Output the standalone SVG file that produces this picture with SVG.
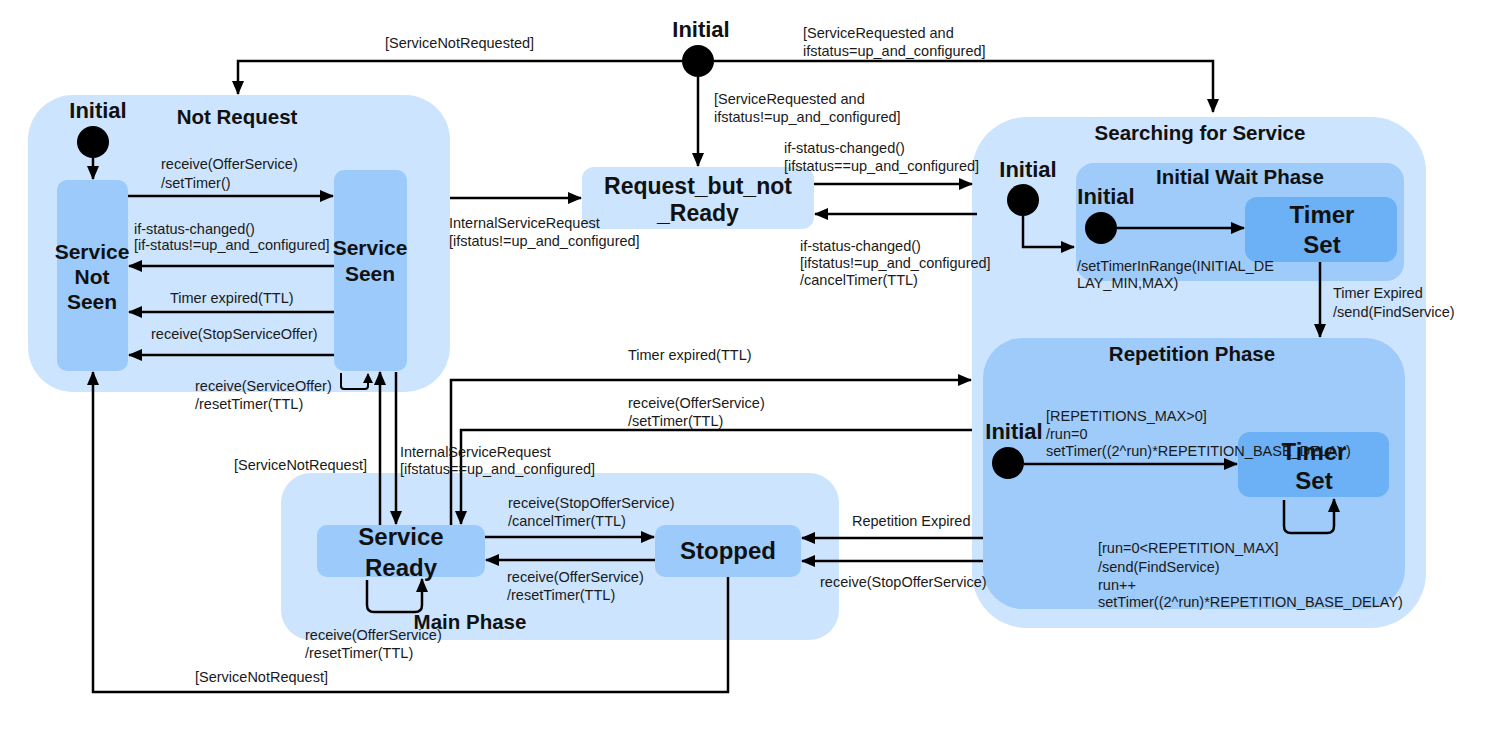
<svg xmlns="http://www.w3.org/2000/svg" width="1488" height="732" viewBox="0 0 1488 732">
<style>
.c{fill:#cce4fd}
.p{fill:#9ecbf9}
.n{fill:#9ccbfb}
.t{fill:#6cb0f5}
.ln{fill:none;stroke:#000;stroke-width:2.5}
.thin{fill:none;stroke:#000;stroke-width:2}
text{font-family:"Liberation Sans",Arial,sans-serif}
.lb{font-size:14.5px;fill:#1a1a1a}
.h{font-size:20.5px;font-weight:bold;text-anchor:middle;fill:#111}
.ini{font-size:22px;font-weight:bold;text-anchor:middle;fill:#111}
.n1{font-size:21px;font-weight:bold;text-anchor:middle;fill:#111}
.n2{font-size:24px;font-weight:bold;text-anchor:middle;fill:#111}
</style>
<defs>
<marker id="ah" viewBox="0 0 14 12" refX="13" refY="6" markerWidth="14" markerHeight="12" markerUnits="userSpaceOnUse" orient="auto"><path d="M0,0 L14,6 L0,12 z" fill="#000"/></marker>
<marker id="as" viewBox="0 0 10 10" refX="9" refY="5" markerWidth="10" markerHeight="10" markerUnits="userSpaceOnUse" orient="auto"><path d="M0,0 L10,5 L0,10 z" fill="#000"/></marker>
</defs>
<rect width="1488" height="732" fill="#fff"/>

<!-- containers -->
<g id="not-request">
<rect class="c" x="28" y="95" width="422" height="297" rx="45"/>
<text class="h" x="237" y="124">Not Request</text>
</g>
<g id="searching-for-service">
<rect class="c" x="972" y="117" width="454" height="511" rx="55"/>
<text class="h" x="1200" y="140">Searching for Service</text>
</g>
<g id="initial-wait-phase">
<rect class="p" x="1076" y="163" width="328" height="118" rx="18"/>
<text class="h" x="1240" y="184">Initial Wait Phase</text>
</g>
<g id="repetition-phase">
<rect class="p" x="983" y="338" width="422" height="271" rx="40"/>
<text class="h" x="1192" y="361">Repetition Phase</text>
</g>
<g id="main-phase">
<rect class="c" x="281" y="473" width="558" height="167" rx="30"/>
<text class="h" x="470" y="629">Main Phase</text>
</g>

<!-- initial pseudo-states -->
<g id="initial-top">
<text class="ini" x="701" y="37">Initial</text>
<circle cx="698" cy="61" r="16" fill="#000"/>
</g>
<g id="initial-not-request">
<text class="ini" x="98" y="118">Initial</text>
<circle cx="93" cy="142" r="16" fill="#000"/>
</g>
<g id="initial-searching">
<text class="ini" x="1028" y="177">Initial</text>
<circle cx="1023" cy="200" r="16" fill="#000"/>
</g>
<g id="initial-wait">
<text class="ini" x="1106" y="204">Initial</text>
<circle cx="1101" cy="228" r="16" fill="#000"/>
</g>
<g id="initial-repetition">
<text class="ini" x="1014" y="439">Initial</text>
<circle cx="1008" cy="463" r="16" fill="#000"/>
</g>

<!-- states -->
<g id="service-not-seen">
<rect class="n" x="57" y="180" width="71" height="191" rx="10"/>
<text class="n1" x="92" y="259">Service</text>
<text class="n1" x="92" y="284">Not</text>
<text class="n1" x="92" y="309">Seen</text>
</g>
<g id="service-seen">
<rect class="n" x="334" y="170" width="73" height="201" rx="10"/>
<text class="n1" x="370" y="255">Service</text>
<text class="n1" x="370" y="281">Seen</text>
</g>
<g id="request-but-not-ready">
<rect class="c" x="582" y="167" width="232" height="62" rx="12"/>
<text class="n2" x="698" y="194" style="font-size:23px">Request_but_not</text>
<text class="n2" x="698" y="221" style="font-size:23px">_Ready</text>
</g>
<g id="timer-set-1">
<rect class="t" x="1245" y="197" width="152" height="65" rx="12"/>
<text class="n2" x="1322" y="223">Timer</text>
<text class="n2" x="1322" y="253">Set</text>
</g>
<g id="timer-set-2">
<rect class="t" x="1238" y="432" width="151" height="65" rx="12"/>
<text class="n2" x="1314" y="460">Timer</text>
<text class="n2" x="1314" y="489">Set</text>
</g>
<g id="service-ready">
<rect class="n" x="317" y="525" width="168" height="52" rx="10"/>
<text class="n2" x="401" y="545">Service</text>
<text class="n2" x="401" y="576">Ready</text>
</g>
<g id="stopped">
<rect class="n" x="655" y="525" width="146" height="52" rx="10"/>
<text class="n2" x="728" y="559">Stopped</text>
</g>

<!-- connectors -->
<g id="connectors">
<path class="ln" d="M682,61 H238 V94" marker-end="url(#ah)"/>
<path class="ln" d="M714,61 H1213 V112" marker-end="url(#ah)"/>
<path class="ln" d="M698,77 V166" marker-end="url(#ah)"/>
<path class="ln" d="M450,198 H581" marker-end="url(#ah)"/>
<path class="ln" d="M814,184 H972" marker-end="url(#ah)"/>
<path class="ln" d="M977,214 H815" marker-end="url(#ah)"/>
<path class="ln" d="M93,158 V179" marker-end="url(#ah)"/>
<path class="ln" d="M128,196 H333" marker-end="url(#ah)"/>
<path class="ln" d="M334,266 H129" marker-end="url(#ah)"/>
<path class="ln" d="M334,312 H129" marker-end="url(#ah)"/>
<path class="ln" d="M334,355 H129" marker-end="url(#ah)"/>
<path class="thin" d="M341,373 V386 Q341,389 344,389 H365 Q368,389 368,386 V374" marker-end="url(#as)"/>
<path class="ln" d="M380,525 V372" marker-end="url(#ah)"/>
<path class="ln" d="M396,372 V524" marker-end="url(#ah)"/>
<path class="ln" d="M451,525 V380 H971" marker-end="url(#ah)"/>
<path class="ln" d="M972,430 H461 V524" marker-end="url(#ah)"/>
<path class="ln" d="M485,537 H654" marker-end="url(#ah)"/>
<path class="ln" d="M655,560 H486" marker-end="url(#ah)"/>
<path class="ln" d="M367,580 V605 Q367,612 374,612 H415 Q422,612 422,605 V579" marker-end="url(#ah)"/>
<path class="ln" d="M728,577 V692 H93 V372" marker-end="url(#ah)"/>
<path class="ln" d="M983,538 H802" marker-end="url(#ah)"/>
<path class="ln" d="M983,561 H802" marker-end="url(#ah)"/>
<path class="ln" d="M1023,216 V247 H1074" marker-end="url(#ah)"/>
<path class="ln" d="M1117,228 H1244" marker-end="url(#ah)"/>
<path class="ln" d="M1320,262 V337" marker-end="url(#ah)"/>
<path class="ln" d="M1024,464 H1237" marker-end="url(#ah)"/>
<path class="ln" d="M1284,500 V526 Q1284,533 1291,533 H1327 Q1334,533 1334,526 V499" marker-end="url(#ah)"/>

<text class="lb" x="385" y="48">[ServiceNotRequested]</text>
<text class="lb" x="803" y="38">[ServiceRequested and</text>
<text class="lb" x="803" y="56">ifstatus=up_and_configured]</text>
<text class="lb" x="714" y="104">[ServiceRequested and</text>
<text class="lb" x="714" y="122">ifstatus!=up_and_configured]</text>
<text class="lb" x="449" y="228">InternalServiceRequest</text>
<text class="lb" x="449" y="246">[ifstatus!=up_and_configured]</text>
<text class="lb" x="784" y="153">if-status-changed()</text>
<text class="lb" x="784" y="171">[ifstatus==up_and_configured]</text>
<text class="lb" x="800" y="251">if-status-changed()</text>
<text class="lb" x="800" y="268">[ifstatus!=up_and_configured]</text>
<text class="lb" x="800" y="285">/cancelTimer(TTL)</text>
<text class="lb" x="161" y="169">receive(OfferService)</text>
<text class="lb" x="161" y="188">/setTimer()</text>
<text class="lb" x="134" y="234">if-status-changed()</text>
<text class="lb" x="134" y="250">[if-status!=up_and_configured]</text>
<text class="lb" x="170" y="303">Timer expired(TTL)</text>
<text class="lb" x="151" y="339">receive(StopServiceOffer)</text>
<text class="lb" x="195" y="391">receive(ServiceOffer)</text>
<text class="lb" x="195" y="409">/resetTimer(TTL)</text>
<text class="lb" x="234" y="470">[ServiceNotRequest]</text>
<text class="lb" x="400" y="457">InternalServiceRequest</text>
<text class="lb" x="400" y="474">[ifstatus==up_and_configured]</text>
<text class="lb" x="628" y="360">Timer expired(TTL)</text>
<text class="lb" x="628" y="408">receive(OfferService)</text>
<text class="lb" x="628" y="426">/setTimer(TTL)</text>
<text class="lb" x="508" y="508">receive(StopOfferService)</text>
<text class="lb" x="508" y="526">/cancelTimer(TTL)</text>
<text class="lb" x="507" y="582">receive(OfferService)</text>
<text class="lb" x="507" y="600">/resetTimer(TTL)</text>
<text class="lb" x="305" y="640">receive(OfferService)</text>
<text class="lb" x="305" y="658">/resetTimer(TTL)</text>
<text class="lb" x="195" y="682">[ServiceNotRequest]</text>
<text class="lb" x="852" y="526">Repetition Expired</text>
<text class="lb" x="820" y="587">receive(StopOfferService)</text>
<text class="lb" x="1077" y="271">/setTimerInRange(INITIAL_DE</text>
<text class="lb" x="1077" y="288">LAY_MIN,MAX)</text>
<text class="lb" x="1333" y="298">Timer Expired</text>
<text class="lb" x="1333" y="317">/send(FindService)</text>
<text class="lb" x="1046" y="421">[REPETITIONS_MAX&gt;0]</text>
<text class="lb" x="1046" y="439">/run=0</text>
<text class="lb" x="1046" y="456">setTimer((2^run)*REPETITION_BASE_DELAY)</text>
<text class="lb" x="1098" y="553">[run=0&lt;REPETITION_MAX]</text>
<text class="lb" x="1098" y="572">/send(FindService)</text>
<text class="lb" x="1098" y="590">run++</text>
<text class="lb" x="1098" y="607">setTimer((2^run)*REPETITION_BASE_DELAY)</text>
</g>
</svg>
